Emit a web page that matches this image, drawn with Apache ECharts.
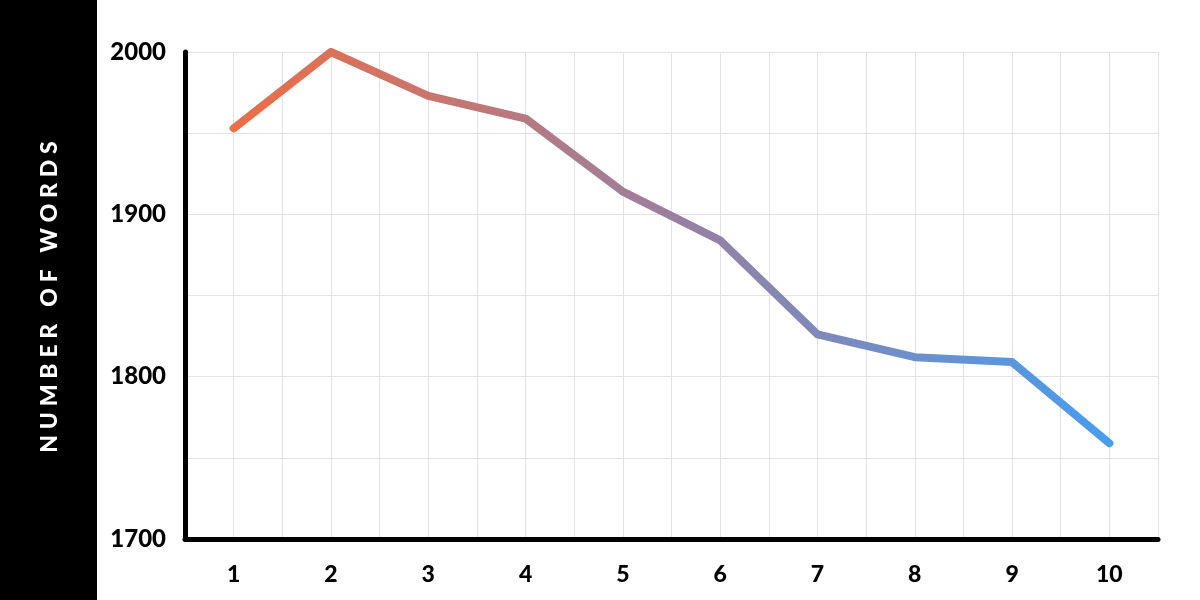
<!DOCTYPE html>
<html><head><meta charset="utf-8">
<script src="https://cdn.jsdelivr.net/npm/echarts@6/dist/echarts.min.js"></script>
<style>html,body{margin:0;padding:0;background:#fff}#c{width:1200px;height:600px}</style>
</head><body><div id="c"></div>
<script>
const categories = ['1','2','3','4','5','6','7','8','9','10'];
const words = [1953, 2000, 1973, 1959, 1914, 1884, 1826, 1812, 1809, 1759];
const yTicks = [1700, 1800, 1900, 2000];
const yTitle = 'NUMBER OF WORDS';

const chart = echarts.init(document.getElementById('c'));
const FONT = 'Lato, "Open Sans", sans-serif';
chart.setOption({
  backgroundColor: '#fff',
  animation: false,
  grid: { left: 185, right: 42, top: 52, bottom: 61 },
  graphic: [
    { type: 'rect', left: 0, top: 0, shape: { width: 97, height: 600 }, style: { fill: '#000' }, z: 0 },
    { type: 'text', x: 50, y: 297, rotation: Math.PI / 2,
      style: { text: yTitle.split('').join('\u2009\u2009'), fill: '#fff', font: '900 23px ' + FONT,
               align: 'center', verticalAlign: 'middle' }, z: 10 }
  ],
  xAxis: [
    { type: 'category', data: categories, boundaryGap: true,
      axisLine: { show: true, lineStyle: { color: '#000', width: 5 } },
      axisTick: { show: false },
      axisLabel: { color: '#000', fontSize: 23, fontWeight: 900, fontFamily: FONT, margin: 24 },
      splitLine: { show: false } },
    { type: 'value', min: 0, max: 20, interval: 1, position: 'bottom',
      axisLine: { show: false }, axisTick: { show: false }, axisLabel: { show: false },
      splitLine: { show: true, lineStyle: { color: '#e3e3e3', width: 1 } } }
  ],
  yAxis: {
    type: 'value', min: 1700, max: 2000, interval: 50,
    axisLine: { show: true, lineStyle: { color: '#000', width: 5 } },
    axisTick: { show: false },
    axisLabel: { color: '#000', fontSize: 24, fontWeight: 900, fontFamily: FONT, margin: 19,
      formatter: v => yTicks.includes(v) ? String(v) : '' },
    splitLine: { show: true, lineStyle: { color: '#e3e3e3', width: 1 } }
  },
  series: [{
    type: 'line', data: words, xAxisIndex: 0, symbol: 'none', z: 5,
    lineStyle: { width: 8, cap: 'round', join: 'round',
      color: new echarts.graphic.LinearGradient(0, 0, 1, 0, [
        { offset: 0, color: '#EE6D45' },
        { offset: 0.5, color: '#9A7FA0' },
        { offset: 1, color: '#479DF0' }
      ]) }
  }]
});
</script></body></html>
